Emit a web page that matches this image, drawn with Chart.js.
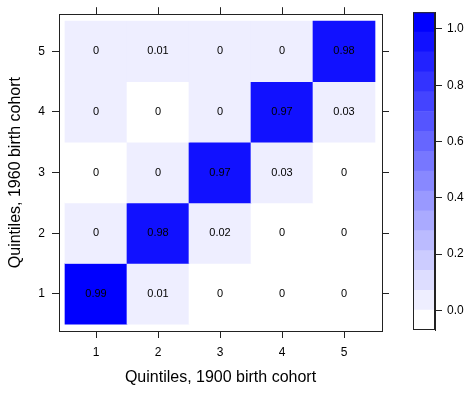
<!DOCTYPE html>
<html>
<head>
<meta charset="utf-8">
<title>Quintile transition matrix</title>
<script src="https://cdn.jsdelivr.net/npm/chart.js@4"></script>
<style>
  html,body{margin:0;padding:0;background:#fff;}
  #wrap{position:relative;width:468px;height:394px;}
  #heat{position:absolute;left:0;top:0;}
  #key{position:absolute;left:400px;top:0;}
</style>
</head>
<body>
<div id="wrap">
  <canvas id="heat" width="400" height="394"></canvas>
  <canvas id="key" width="68" height="394"></canvas>
</div>
<script>
// quintile positions on both axes
const QUINTILES = [1, 2, 3, 4, 5];
// transition shares, one array per 1960 quintile (row), columns = 1900 quintile
const ROW1 = [0.99, 0.01, 0, 0, 0];
const ROW2 = [0.004, 0.98, 0.02, 0, 0];
const ROW3 = [0, 0.004, 0.97, 0.03, 0];
const ROW4 = [0.004, 0, 0.004, 0.97, 0.03];
const ROW5 = [0.004, 0.01, 0.004, 0.004, 0.98];
const KEY_TICKS = [0, 0.2, 0.4, 0.6, 0.8, 1.0];
const N_BINS = 16;

const ROWS = [ROW1, ROW2, ROW3, ROW4, ROW5];
const FONT = '"Liberation Sans", Arial, Helvetica, sans-serif';
const LINE = "#222";

// colour key breaks: data range padded 7% each side, cut in equal bins
const all = ROWS.flat();
const zMin = Math.min(...all), zMax = Math.max(...all);
const pad = (zMax - zMin) * 0.07;
const BREAKS = Array.from({length: N_BINS + 1}, (_, i) =>
  zMin - pad + i * (zMax - zMin + 2 * pad) / N_BINS);
const COLORS = Array.from({length: N_BINS}, (_, i) => {
  const c = Math.round(255 * (1 - i / (N_BINS - 1)));
  return `rgb(${c},${c},255)`;
});
function binOf(v){
  for(let i = 0; i < N_BINS; i++){ if(v <= BREAKS[i + 1]) return i; }
  return N_BINS - 1;
}
const fmt = (v) => String(Math.round(v * 100) / 100);

const cells = [], cellColors = [];
ROWS.forEach((row, r) => row.forEach((v, c) => {
  cells.push({x: QUINTILES[c], y: [QUINTILES[r] - 0.5, QUINTILES[r] + 0.5], v});
  cellColors.push(COLORS[binOf(v)]);
}));

// axis limits: cells 62px wide, small margin to the frame
const XMIN = 0.5 - 6 / 62, XMAX = 5.5 + 7 / 62;
const YMIN = 0.5 - 7 / 62, YMAX = 5.5 + 7 / 62;

function axis(position, min, max, size, labels, title, titlePad){
  const horiz = position === "top" || position === "bottom";
  return {
    type: "linear", position, min, max, offset: false,
    afterBuildTicks: (s) => { s.ticks = QUINTILES.map(v => ({value: v})); },
    afterFit: (s) => { if(horiz) s.height = size; else s.width = size; },
    grid: {display: true, drawOnChartArea: false, drawTicks: true, tickLength: 7, color: LINE, offset: false},
    border: {display: true, color: LINE, width: 1},
    ticks: {display: labels, color: "#000", padding: 7, maxRotation: 0, font: {family: FONT, size: 12}},
    title: title ? {display: true, text: title, color: "#000", font: {family: FONT, size: 16}, padding: titlePad} : {display: false}
  };
}

const cellLabels = {
  id: "cellLabels",
  afterDatasetsDraw(chart){
    const ctx = chart.ctx;
    const meta = chart.getDatasetMeta(0);
    ctx.save();
    ctx.font = `11px ${FONT}`;
    ctx.fillStyle = "#000";
    ctx.textAlign = "center";
    ctx.textBaseline = "middle";
    meta.data.forEach((bar, i) => {
      const p = bar.getCenterPoint();
      ctx.fillText(fmt(cells[i].v), p.x, p.y);
    });
    ctx.restore();
  }
};

new Chart(document.getElementById("heat"), {
  type: "bar",
  data: {
    datasets: [{
      data: cells,
      backgroundColor: cellColors,
      borderWidth: 0,
      categoryPercentage: 1,
      barPercentage: 1
    }]
  },
  options: {
    responsive: false, animation: false, events: [],
    layout: {padding: 0},
    plugins: {legend: {display: false}, tooltip: {enabled: false}},
    scales: {
      x: axis("bottom", XMIN, XMAX, 63, true, "Quintiles, 1900 birth cohort", {bottom: 7}),
      x2: Object.assign(axis("top", XMIN, XMAX, 7, false), {axis: "x"}),
      y: axis("left", YMIN, YMAX, 59, true, "Quintiles, 1960 birth cohort", {top: 6}),
      y2: Object.assign(axis("right", YMIN, YMAX, 18, false), {axis: "y"})
    }
  },
  plugins: [cellLabels]
});

// colour key
const keyFrame = {
  id: "keyFrame",
  afterDraw(chart){
    const {ctx, chartArea: a} = chart;
    ctx.save();
    ctx.strokeStyle = LINE;
    ctx.lineWidth = 1;
    ctx.strokeRect(a.left + 0.5, a.top + 0.5, a.right - a.left - 1, a.bottom - a.top - 1);
    ctx.restore();
  }
};

new Chart(document.getElementById("key"), {
  type: "bar",
  data: {
    labels: [""],
    datasets: COLORS.map((col, i) => ({
      data: [[BREAKS[i], BREAKS[i + 1]]],
      backgroundColor: col,
      borderWidth: 0,
      grouped: false,
      categoryPercentage: 1,
      barPercentage: 1
    }))
  },
  options: {
    responsive: false, animation: false, events: [],
    layout: {padding: {left: 13, top: 10, bottom: 64, right: 0}},
    plugins: {legend: {display: false}, tooltip: {enabled: false}},
    scales: {
      x: {display: false},
      y: {
        type: "linear", position: "right",
        min: BREAKS[0], max: BREAKS[N_BINS],
        afterBuildTicks: (s) => { s.ticks = KEY_TICKS.map(v => ({value: v})); },
        afterFit: (s) => { s.width = 33; },
        grid: {display: true, drawOnChartArea: false, drawTicks: true, tickLength: 7, color: LINE},
        border: {display: true, color: LINE},
        ticks: {color: "#000", padding: 5, font: {family: FONT, size: 12}, callback: (v) => Number(v).toFixed(1)}
      }
    }
  },
  plugins: [keyFrame]
});
</script>
</body>
</html>
